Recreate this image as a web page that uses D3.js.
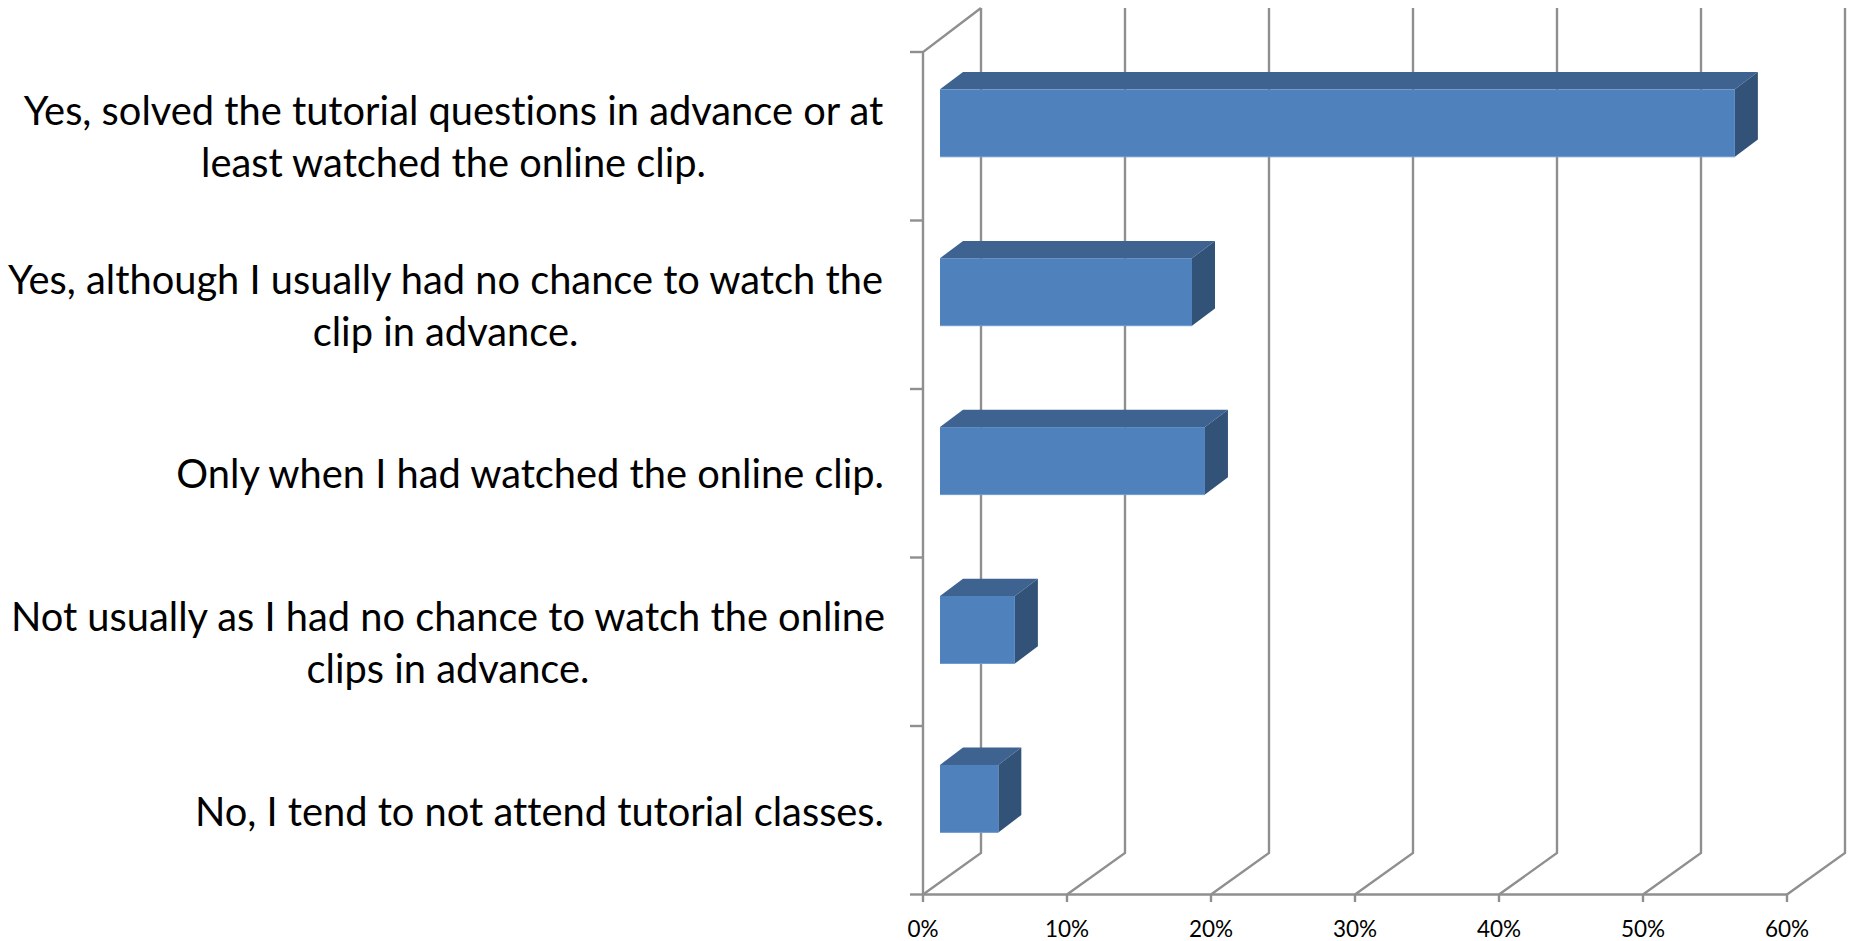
<!DOCTYPE html>
<html><head><meta charset="utf-8">
<script src="https://cdnjs.cloudflare.com/ajax/libs/d3/7.8.5/d3.min.js"></script>
<style>html,body{margin:0;background:#fff}svg{display:block}text{font-variant-ligatures:none}</style></head><body>
<svg id="c" width="1852" height="941"></svg>
<script>
const labelLines = [
  ["Yes, solved the tutorial questions in advance or at","least watched the online clip."],
  ["Yes, although I usually had no chance to watch the","clip in advance."],
  ["Only when I had watched the online clip."],
  ["Not usually as I had no chance to watch the online","clips in advance."],
  ["No, I tend to not attend tutorial classes."]
];
const values = [55.2, 17.5, 18.4, 5.2, 4.05];
const tickValues = [0,10,20,30,40,50,60];

const svg = d3.select("#c");
const x = d3.scaleLinear().domain([0,60]).range([923,1787]);
const y = d3.scaleBand().domain(d3.range(values.length)).range([52,894.5]);
const yBar = d3.scaleBand().domain(d3.range(values.length)).range([52,896.5]);
const dx = 58, backTop = 8, backBottom = 853;
const barDx = 23, barDy = -17.3, barH = 67.5;
const barX0 = 17;
const grey = "#8f8f8f";

const g = svg.append("g").attr("fill","none").attr("stroke",grey).attr("stroke-width",2.4);
tickValues.forEach(t=>{
  const px = x(t);
  g.append("path").attr("d",`M${px},894.5L${px+dx},${backBottom}L${px+dx},${backTop}`);
});
g.append("path").attr("d",`M${x(0)},894.5L${x(0)},52L${x(0)+dx},${backTop}`);
g.append("path").attr("d",`M${x(0)},894.5L${x(60)},894.5`);
d3.range(values.length+1).forEach(i=>{
  const py = 52 + i*y.step();
  g.append("path").attr("d",`M${x(0)-13},${py}L${x(0)},${py}`);
});
tickValues.forEach(t=>g.append("path").attr("d",`M${x(t)},894.5L${x(t)},902`));

const bars = svg.append("g").selectAll("g").data(values).join("g");
const barTop = i => yBar(i)+yBar.bandwidth()/2 - 13.4 - barH/2;
const left = x(0)+barX0;
const right = d => left + (x(d)-x(0));
bars.append("path").attr("fill","#3f6390")
  .attr("d",(d,i)=>`M${left},${barTop(i)}L${left+barDx},${barTop(i)+barDy}L${right(d)+barDx},${barTop(i)+barDy}L${right(d)},${barTop(i)}Z`);
bars.append("path").attr("fill","#325278")
  .attr("d",(d,i)=>`M${right(d)},${barTop(i)}L${right(d)+barDx},${barTop(i)+barDy}L${right(d)+barDx},${barTop(i)+barDy+barH}L${right(d)},${barTop(i)+barH}Z`);
bars.append("rect").attr("fill","#4f81bd")
  .attr("x",left).attr("y",(d,i)=>barTop(i)).attr("width",d=>right(d)-left).attr("height",barH);
bars.append("path").attr("fill","none").attr("stroke","#6f9bd1").attr("stroke-width",1)
  .attr("d",(d,i)=>`M${left},${barTop(i)+barH}L${right(d)},${barTop(i)+barH}`);

svg.append("g").selectAll("text").data(tickValues).join("text")
  .attr("x",d=>x(d)).attr("y",936.5).attr("text-anchor","middle")
  .attr("font-family","Lato").attr("font-size",22.5).attr("fill","#000")
  .text(d=>d+"%");

const fs = 39.8;
const lh = 52;
const cy = [137.5, 306.5, 474.5, 643, 812];
const cx = [453.5, 445.5, null, 448, null];
const lab = svg.append("g").attr("font-family","Lato").attr("font-size",fs).attr("fill","#000").attr("text-anchor","middle");
labelLines.forEach((lines,i)=>{
  lines.forEach((s,j)=>{
    const t = lab.append("text").attr("y",cy[i]+(j-(lines.length-1)/2)*lh+fs*0.35).text(s);
    t.attr("x",cx[i]===null?884-t.node().getComputedTextLength()/2:cx[i]);
  });
});
</script></body></html>
